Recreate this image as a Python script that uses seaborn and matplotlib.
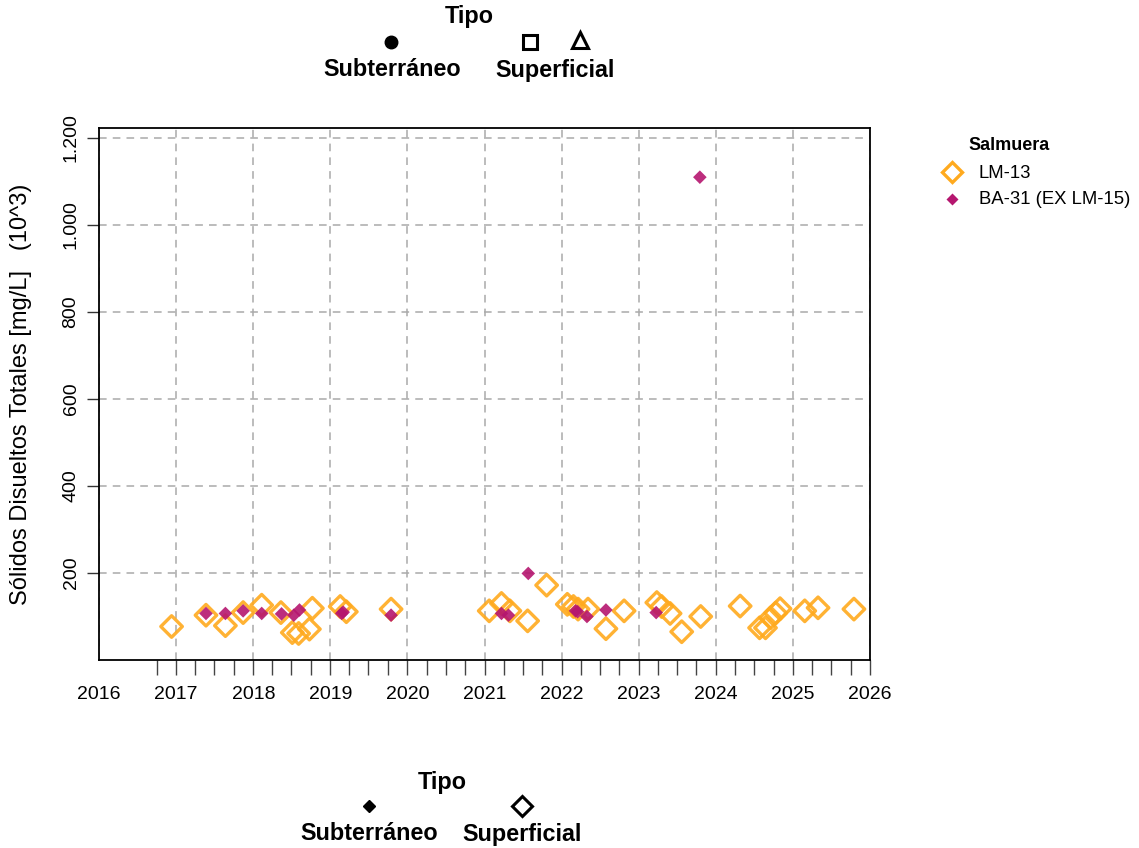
import numpy as np
import pandas as pd
import matplotlib
matplotlib.use("Agg")
import matplotlib.pyplot as plt
from matplotlib.ticker import FuncFormatter
import seaborn as sns

# ===============================
# Data
# ===============================
lm13_dates = ["2016-12-10", "2017-05-22", "2017-08-22", "2017-11-14", "2018-02-10",
              "2018-05-12", "2018-07-05", "2018-08-04", "2018-09-24", "2018-10-08",
              "2019-02-17", "2019-03-18", "2019-10-16", "2021-01-23", "2021-03-22",
              "2021-05-01", "2021-07-24", "2021-10-22", "2022-01-28", "2022-02-26",
              "2022-03-20", "2022-05-06", "2022-07-30", "2022-10-24", "2023-03-28",
              "2023-04-20", "2023-05-30", "2023-07-24", "2023-10-22", "2024-04-26",
              "2024-07-27", "2024-08-24", "2024-09-17", "2024-10-11", "2024-11-01",
              "2025-02-26", "2025-04-30", "2025-10-17"]
lm13_values = [77, 103, 79, 109, 126,
               109, 63, 61, 71, 119,
               123, 111, 117, 113, 130,
               113, 90, 172, 128, 123,
               117, 117, 72, 113, 132,
               123, 107, 65, 100, 124,
               74, 74, 97, 108, 118,
               113, 120, 117]

ba31_dates = ["2017-05-22", "2017-08-22", "2017-11-14", "2018-02-10", "2018-05-15",
              "2018-07-12", "2018-08-08", "2019-02-24", "2019-03-03", "2019-10-16",
              "2021-03-22", "2021-04-24", "2021-07-27", "2022-03-08", "2022-03-18",
              "2022-05-01", "2022-07-30", "2023-03-25", "2023-10-18"]
ba31_values = [107, 107, 113, 107, 106,
               103, 115, 107, 110, 103,
               107, 103, 199, 113, 111,
               100, 115, 109, 1110]

series_names = ["LM-13", "BA-31 (EX LM-15)"]
series_colors = ["#FFAA1E", "#B5166F"]
year_ticks = list(range(2016, 2027))

df_lm = pd.DataFrame({"Fecha": pd.to_datetime(lm13_dates), "Valor": lm13_values})
df_ba = pd.DataFrame({"Fecha": pd.to_datetime(ba31_dates), "Valor": ba31_values})

# ===============================
# Plot
# ===============================
sns.set_style("white")
plt.rcParams["font.family"] = ["Liberation Sans", "DejaVu Sans"]
plt.rcParams["text.color"] = "black"
plt.rcParams["axes.labelcolor"] = "black"
plt.rcParams["xtick.color"] = "black"
plt.rcParams["ytick.color"] = "black"

fig = plt.figure(figsize=(11.39, 8.48), dpi=100)
ax = fig.add_axes([0.0869, 0.2217, 0.6769, 0.6273])

sns.scatterplot(data=df_lm, x="Fecha", y="Valor", ax=ax, marker="D", s=120,
                facecolors="none", edgecolor=series_colors[0], linewidth=2.4,
                alpha=0.9, zorder=3)
sns.scatterplot(data=df_ba, x="Fecha", y="Valor", ax=ax, marker="D", s=48,
                color=series_colors[1], edgecolor="none", alpha=0.9, zorder=4)

ax.set_xlim(pd.Timestamp("2016-01-01"), pd.Timestamp("2026-01-01"))
ax.set_ylim(0, 1223)

year_pos = [pd.Timestamp(f"{y}-01-01") for y in year_ticks]
ax.set_xticks(year_pos)
ax.set_xticklabels([str(y) for y in year_ticks], fontsize=14)
quarters = pd.date_range("2016-10-01", "2026-01-01", freq="QS")
ax.set_xticks(quarters, minor=True)
ax.xaxis.remove_overlapping_locs = False
ax.tick_params(axis="x", which="major", length=0, pad=19)
ax.tick_params(axis="x", which="minor", length=11, width=1, color="#444444",
               direction="out", bottom=True)

ax.set_yticks([200, 400, 600, 800, 1000, 1200])
ax.yaxis.set_major_formatter(FuncFormatter(lambda v, p: f"{int(v):,}".replace(",", ".")))
ax.tick_params(axis="y", length=9, width=1, direction="out", left=True,
               color="#333333", labelsize=14, pad=5)
for lab in ax.get_yticklabels():
    lab.set_rotation(90)
    lab.set_va("center")

ax.grid(True, which="major", linestyle=(0, (5, 4)), color="#aaaaaa", linewidth=1.1)
ax.set_axisbelow(True)
for sp in ax.spines.values():
    sp.set_color("black")
    sp.set_linewidth(1.3)

ax.set_xlabel("")
ax.set_ylabel("Sólidos Disueltos Totales [mg/L]   (10^3)", fontsize=17, labelpad=22)

# Legends drawn in pixel space
ov = fig.add_axes([0, 0, 1, 1], facecolor="none")
ov.set_xlim(0, 1139)
ov.set_ylim(848, 0)
ov.axis("off")

# Right legend (Salmuera)
ov.text(968, 146, "Salmuera", fontsize=13, fontweight="bold", ha="left", va="center")
ov.plot(952, 172, marker="D", markersize=10, markerfacecolor="none",
        markeredgecolor=series_colors[0], markeredgewidth=2.4, linestyle="none")
ov.plot(952, 199, marker="D", markersize=6.5, markerfacecolor=series_colors[1],
        markeredgecolor="none", linestyle="none")
ov.text(979, 173, series_names[0], fontsize=13.3, ha="left", va="center")
ov.text(979, 200, series_names[1], fontsize=13.3, ha="left", va="center")

bold = {"fontsize": 16.8, "fontweight": "bold", "ha": "center", "va": "center"}
ov.text(469, 17, "Tipo", **bold)
ov.plot(391, 42, marker="o", markersize=9, color="black", linestyle="none")
ov.plot(530, 42, marker="s", markersize=10, markerfacecolor="white",
        markeredgecolor="black", markeredgewidth=2.2, linestyle="none")
ov.plot(580, 40, marker="^", markersize=12, markerfacecolor="white",
        markeredgecolor="black", markeredgewidth=2.2, linestyle="none")
ov.text(392, 70, "Subterráneo", **bold)
ov.text(555, 70, "Superficial", **bold)

ov.text(442, 783, "Tipo", **bold)
ov.plot(369, 806, marker="D", markersize=6, color="black", linestyle="none")
ov.plot(522, 806, marker="D", markersize=10, markerfacecolor="white",
        markeredgecolor="black", markeredgewidth=2.2, linestyle="none")
ov.text(369, 834, "Subterráneo", **bold)
ov.text(522, 834, "Superficial", **bold)

fig.savefig("out.png", dpi=100)
